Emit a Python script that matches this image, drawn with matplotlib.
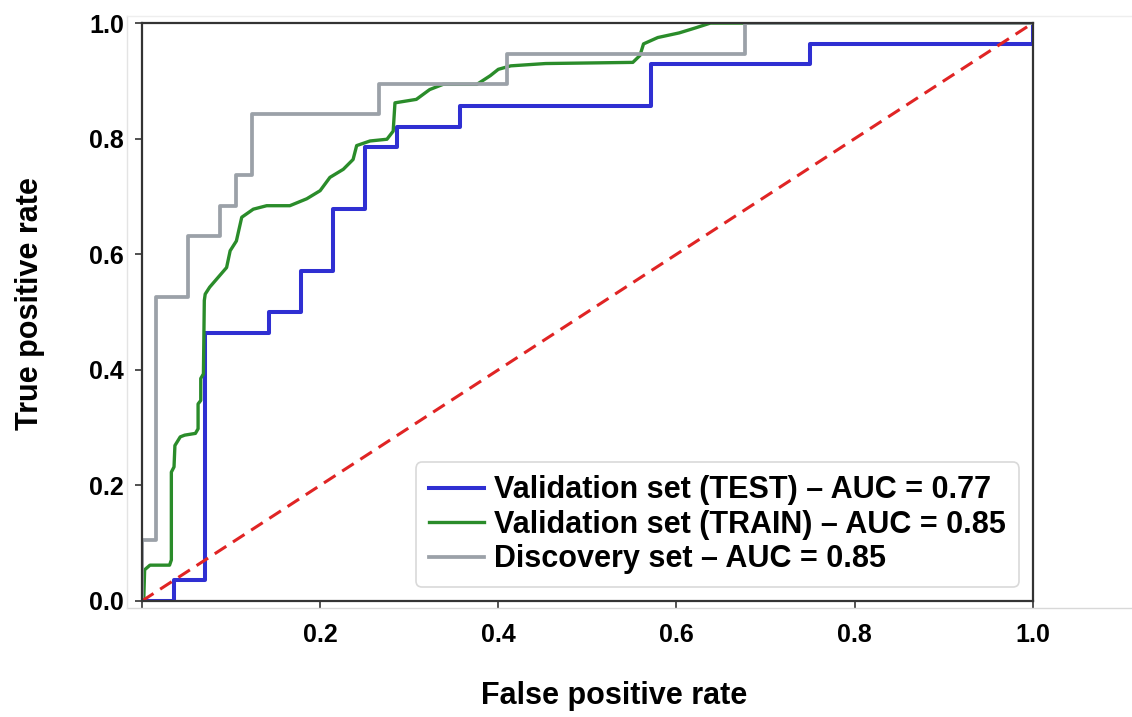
import numpy as np
import matplotlib
matplotlib.use('Agg')
import matplotlib.pyplot as plt
from matplotlib.lines import Line2D

plt.rcParams['font.family'] = ['Liberation Sans', 'DejaVu Sans']
plt.rcParams['font.weight'] = 'bold'

# ROC curves (false positive rate, true positive rate)
test_fpr = [0.0, 0.036, 0.036, 0.071, 0.071, 0.143, 0.143, 0.179, 0.179, 0.214, 0.214,
            0.25, 0.25, 0.286, 0.286, 0.357, 0.357, 0.571, 0.571, 0.75, 0.75, 1.0, 1.0]
test_tpr = [0.0, 0.0, 0.036, 0.036, 0.464, 0.464, 0.5, 0.5, 0.571, 0.571, 0.679,
            0.679, 0.786, 0.786, 0.821, 0.821, 0.857, 0.857, 0.929, 0.929, 0.964, 0.964, 1.0]

train_fpr = [0.0, 0.002, 0.003, 0.009, 0.031, 0.033, 0.033, 0.036, 0.037, 0.043, 0.048,
             0.060, 0.063, 0.063, 0.066, 0.066, 0.069, 0.070, 0.071, 0.076, 0.095, 0.099,
             0.106, 0.112, 0.125, 0.140, 0.166, 0.185, 0.200, 0.211, 0.226, 0.237, 0.241,
             0.256, 0.275, 0.282, 0.284, 0.308, 0.323, 0.338, 0.376, 0.391, 0.400, 0.414,
             0.453, 0.551, 0.559, 0.563, 0.579, 0.603, 0.622, 0.638, 1.0]
train_tpr = [0.0, 0.0, 0.054, 0.062, 0.062, 0.071, 0.223, 0.232, 0.269, 0.284, 0.287,
             0.290, 0.298, 0.341, 0.347, 0.385, 0.393, 0.520, 0.531, 0.543, 0.577, 0.606,
             0.623, 0.664, 0.678, 0.684, 0.684, 0.696, 0.710, 0.733, 0.747, 0.764, 0.788,
             0.796, 0.799, 0.813, 0.862, 0.868, 0.885, 0.894, 0.894, 0.909, 0.920, 0.926,
             0.930, 0.932, 0.944, 0.964, 0.975, 0.983, 0.992, 1.0, 1.0]

disc_fpr = [0.0, 0.0, 0.016, 0.016, 0.052, 0.052, 0.088, 0.088, 0.106, 0.106, 0.124,
            0.124, 0.266, 0.266, 0.410, 0.410, 0.677, 0.677, 1.0]
disc_tpr = [0.0, 0.105, 0.105, 0.526, 0.526, 0.632, 0.632, 0.684, 0.684, 0.737, 0.737,
            0.842, 0.842, 0.895, 0.895, 0.947, 0.947, 1.0, 1.0]

labels = ['Validation set (TEST) \u2013 AUC = 0.77',
          'Validation set (TRAIN) \u2013 AUC = 0.85',
          'Discovery set \u2013 AUC = 0.85']

fig = plt.figure(figsize=(11.32, 7.17), dpi=100)
ax = fig.add_axes([0.1254, 0.1618, 0.787, 0.806])

ax.plot(test_fpr, test_tpr, color='#2f2fd2', lw=2.9, label=labels[0])
ax.plot(train_fpr, train_tpr, color='#2a8c2a', lw=2.4, label=labels[1])
ax.plot(disc_fpr, disc_tpr, color='#9ba1a8', lw=2.7, label=labels[2])
ax.plot([0, 1], [0, 1], color='#e02424', lw=2.2, linestyle=(0, (4.5, 2.6)))

ax.set_xlim(0, 1)
ax.set_ylim(0, 1)
ax.set_xticks([0, 0.2, 0.4, 0.6, 0.8, 1.0])
ax.set_xticklabels(['', '0.2', '0.4', '0.6', '0.8', '1.0'])
ax.set_yticks([0, 0.2, 0.4, 0.6, 0.8, 1.0])
ax.set_yticklabels(['0.0', '0.2', '0.4', '0.6', '0.8', '1.0'])
ax.tick_params(axis='both', direction='out', length=5, width=1.2, color='#333333',
               labelsize=18, pad=8)
ax.tick_params(axis='x', pad=11)
for s in ax.spines.values():
    s.set_color('#333333')
    s.set_linewidth(1.6)

ax.set_xlabel('False positive rate', fontsize=22, fontweight='bold')
ax.set_ylabel('True positive rate', fontsize=22, fontweight='bold')
ax.xaxis.set_label_coords(0.53, -0.138)
ax.yaxis.set_label_coords(-0.109, 0.515)

leg = ax.legend(loc='lower right', fontsize=22, handlelength=1.8, handletextpad=0.35,
                labelspacing=0.15, borderaxespad=0.45, fancybox=True,
                borderpad=0.42)
leg.get_frame().set_edgecolor('#d0d0d0')
leg.get_frame().set_linewidth(1.2)

# faint frame lines from the original screenshot
fig.add_artist(Line2D([127 / 1132, 1.0], [1 - 608 / 717, 1 - 608 / 717],
                      transform=fig.transFigure, color='#d8d8d8', lw=1))
fig.add_artist(Line2D([127 / 1132, 127 / 1132], [1 - 608 / 717, 1 - 16 / 717],
                      transform=fig.transFigure, color='#e4e4e4', lw=1))
fig.add_artist(Line2D([127 / 1132, 1.0], [1 - 16 / 717, 1 - 16 / 717],
                      transform=fig.transFigure, color='#eeeeee', lw=1))

fig.savefig('out.png', dpi=100)
